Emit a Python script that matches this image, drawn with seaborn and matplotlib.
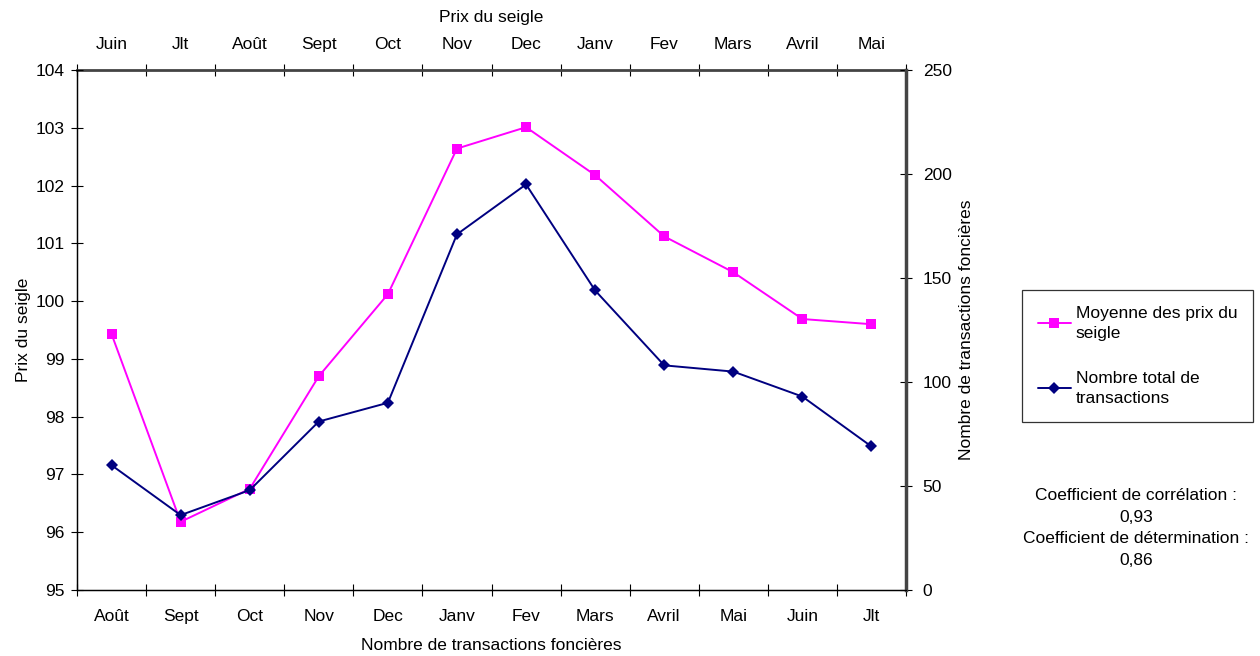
import matplotlib
matplotlib.use("Agg")
import numpy as np
import pandas as pd
import matplotlib.pyplot as plt
import seaborn as sns

# ---------- DATA ----------
MOIS_PRIX = ["Juin", "Jlt", "Août", "Sept", "Oct", "Nov", "Dec", "Janv", "Fev", "Mars", "Avril", "Mai"]
MOIS_TRANS = ["Août", "Sept", "Oct", "Nov", "Dec", "Janv", "Fev", "Mars", "Avril", "Mai", "Juin", "Jlt"]
PRIX_SEIGLE = [99.43, 96.18, 96.75, 98.70, 100.12, 102.64, 103.01, 102.18, 101.12, 100.50, 99.69, 99.60]
TRANSACTIONS = [60, 36, 48, 81, 90, 171, 195, 144, 108, 105, 93, 69]
# --------------------------

sns.set_theme(style="white")
plt.rcParams.update({
    "font.family": ["Liberation Sans", "DejaVu Sans"],
    "font.size": 12.5,
    "text.color": "black",
    "axes.labelcolor": "black",
    "xtick.color": "black",
    "ytick.color": "black",
})
FS = 12.5

df = pd.DataFrame({
    "pos": np.arange(len(MOIS_PRIX)),
    "prix": PRIX_SEIGLE,
    "trans": TRANSACTIONS,
})

fig = plt.figure(figsize=(12.6, 6.56), dpi=100)
ax = fig.add_axes([77 / 1260, 66 / 656, 829 / 1260, 520 / 656])
ax2 = ax.twinx()

sns.lineplot(data=df, x="pos", y="prix", ax=ax, color="#FF00FF", marker="s",
             markersize=7, markeredgewidth=0, linewidth=1.4,
             label="Moyenne des prix du\nseigle", legend=False)
sns.lineplot(data=df, x="pos", y="trans", ax=ax2, color="#000080", marker="D",
             markersize=6.5, markeredgewidth=0, linewidth=1.4,
             label="Nombre total de\ntransactions", legend=False)

ax.set_xlim(-0.5, 11.5)
ax.set_ylim(95, 104)
ax2.set_ylim(0, 250)
ax.set_yticks(range(95, 105))
ax2.set_yticks(range(0, 251, 50))

# bottom axis: transaction months
ax.set_xticks(df["pos"])
ax.set_xticklabels(MOIS_TRANS)
ax.set_xticks(np.arange(-0.5, 12, 1), minor=True)
ax.tick_params(axis="x", which="major", length=0, pad=14, labelsize=FS)
ax.tick_params(axis="x", which="minor", length=8, direction="inout", width=0.8, color="black", bottom=True)
ax.tick_params(axis="y", which="major", length=8, direction="inout", width=0.8, color="black", left=True, labelsize=FS, pad=5)
ax2.tick_params(axis="y", which="major", length=8, direction="inout", width=0.8, color="black", right=True, labelsize=FS, pad=8)

# top axis: price months
top = ax.secondary_xaxis("top")
top.set_xticks(df["pos"])
top.set_xticklabels(MOIS_PRIX)
top.set_xticks(np.arange(-0.5, 12, 1), minor=True)
top.tick_params(axis="x", which="major", length=0, pad=13, labelsize=FS)
top.tick_params(axis="x", which="minor", length=8, direction="inout", width=0.8, color="black")
top.spines["top"].set_color("#444444")
top.spines["top"].set_linewidth(2)
top.set_xlabel("Prix du seigle", fontsize=FS, labelpad=11)

ax.set_xlabel("Nombre de transactions foncières", fontsize=FS, labelpad=10)
ax.set_ylabel("Prix du seigle", fontsize=FS, labelpad=3)
ax2.set_ylabel("Nombre de transactions foncières", fontsize=FS, labelpad=5)
ax2.set_xlabel("")

for a in (ax, ax2):
    a.grid(False)
    for s in a.spines.values():
        s.set_color("black")
        s.set_linewidth(0.9)
ax.spines["top"].set_visible(False)
ax2.spines["top"].set_visible(False)
ax2.spines["right"].set_color("#444444")
ax2.spines["right"].set_linewidth(2.5)

h1, l1 = ax.get_legend_handles_labels()
h2, l2 = ax2.get_legend_handles_labels()
leg = fig.legend(h1 + h2, l1 + l2, loc="upper left",
                 bbox_to_anchor=(1022 / 1260, 1 - 290 / 656),
                 frameon=True, fancybox=False, fontsize=FS,
                 handlelength=1.9, handletextpad=0.3, labelspacing=1.7,
                 borderpad=0.9, borderaxespad=0)
for t in leg.get_texts():
    t.set_linespacing(1.45)
leg.get_frame().set_edgecolor("black")
leg.get_frame().set_linewidth(0.9)

fig.text(1136 / 1260, 1 - 528 / 656,
         "Coefficient de corrélation :\n0,93\nCoefficient de détermination :\n0,86",
         ha="center", va="center", fontsize=FS, linespacing=1.55)

fig.savefig("out.png", dpi=100, facecolor="white")
